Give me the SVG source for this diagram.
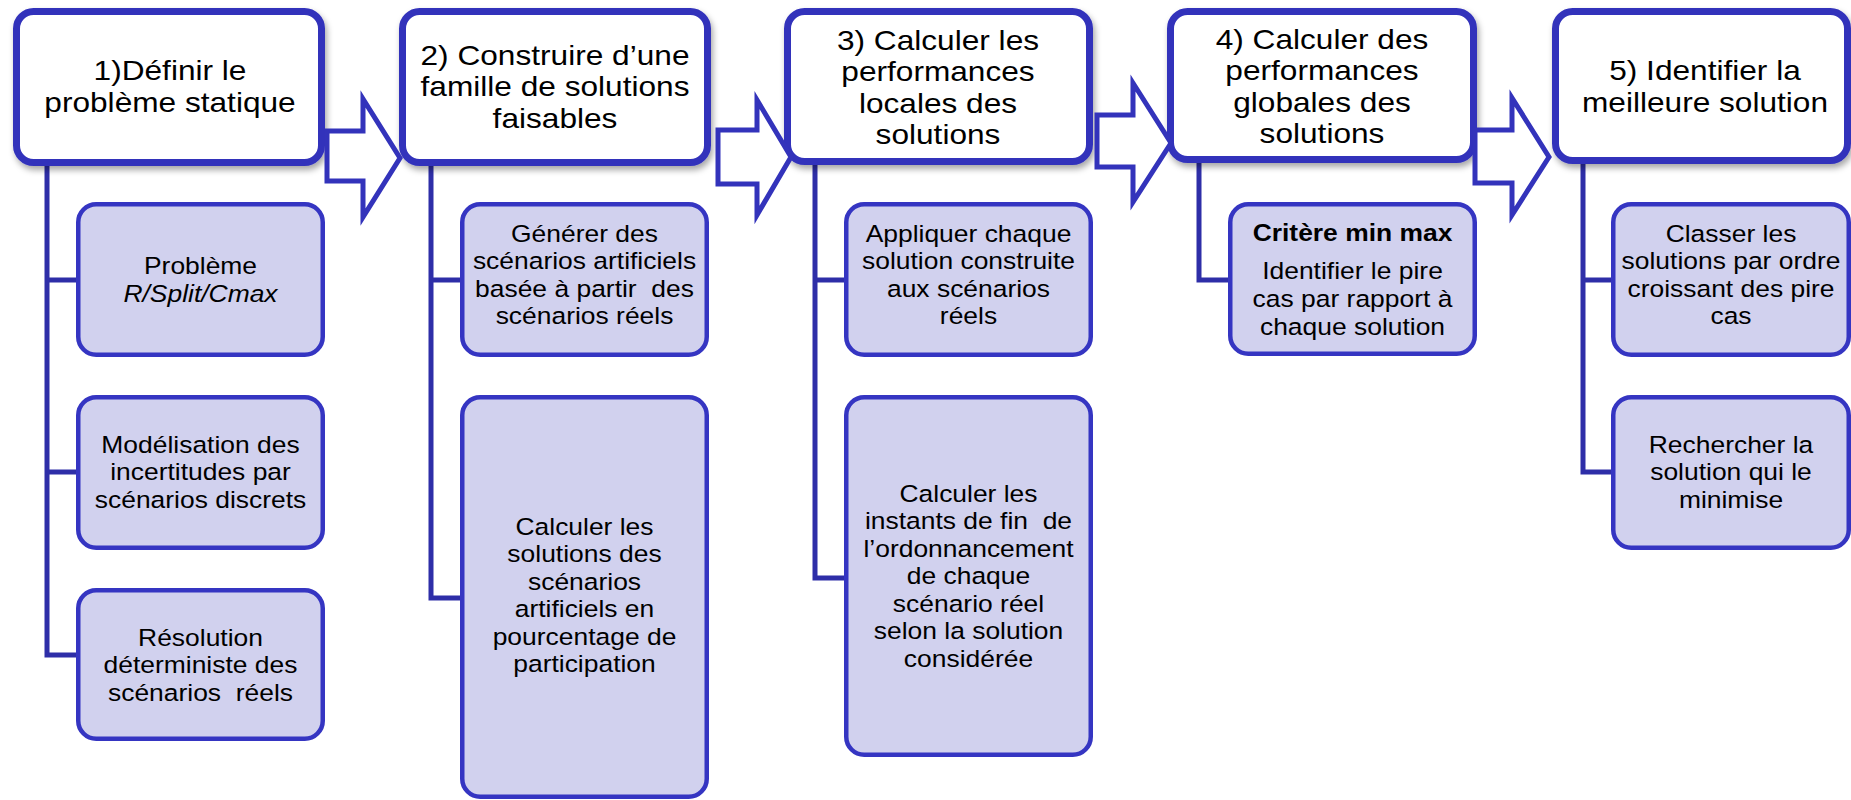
<svg xmlns="http://www.w3.org/2000/svg" width="1851" height="800" viewBox="0 0 1851 800">
<defs>
<style>
.hb{fill:#ffffff;stroke:#3333BB;stroke-width:7;filter:url(#sh)}
.cb{fill:#D1D1EE;stroke:#3535C2;stroke-width:4.5}
.ar{fill:#ffffff;stroke:#3333BB;stroke-width:5;stroke-linejoin:miter}
.ln{fill:none;stroke:#2E2EA8;stroke-width:5}
.h{font-family:"Liberation Sans",Arial,sans-serif;font-size:28px;fill:#000;text-anchor:middle}
.t{font-family:"Liberation Sans",Arial,sans-serif;font-size:23.5px;fill:#000;text-anchor:middle}
</style>
<filter id="sh" x="-10%" y="-10%" width="125%" height="130%">
<feDropShadow dx="2" dy="4" stdDeviation="3" flood-color="#000" flood-opacity="0.35"/>
</filter>
</defs>
<rect width="1851" height="800" fill="#ffffff"/>

<g id="connectors">
<path class="ln" d="M47,166 V655 H78 M47,280 H78 M47,472 H78"/>
<path class="ln" d="M431,166 V598 H462 M431,280 H462"/>
<path class="ln" d="M815,165 V578 H846 M815,280 H846"/>
<path class="ln" d="M1199,162 V280 H1230"/>
<path class="ln" d="M1583,164 V472 H1613 M1583,280 H1613"/>
</g>

<g id="step1">
<rect class="hb" x="16.5" y="11.5" width="305" height="151" rx="17"/>
<text class="h" transform="matrix(1.13 0 0 1 170 0)"><tspan x="0" y="80">1)Définir le</tspan><tspan x="0" y="112">problème statique</tspan></text>
</g>
<g id="step2">
<rect class="hb" x="402.5" y="11.5" width="305" height="151" rx="17"/>
<text class="h" transform="matrix(1.13 0 0 1 555 0)"><tspan x="0" y="65">2) Construire d’une</tspan><tspan x="0" y="96.5">famille de solutions</tspan><tspan x="0" y="128">faisables</tspan></text>
</g>
<g id="step3">
<rect class="hb" x="787.5" y="11.5" width="302" height="150" rx="17"/>
<text class="h" transform="matrix(1.13 0 0 1 938 0)"><tspan x="0" y="50">3) Calculer les</tspan><tspan x="0" y="81.5">performances</tspan><tspan x="0" y="113">locales des</tspan><tspan x="0" y="144.5">solutions</tspan></text>
</g>
<g id="step4">
<rect class="hb" x="1170.5" y="11.5" width="303" height="148" rx="17"/>
<text class="h" transform="matrix(1.13 0 0 1 1322 0)"><tspan x="0" y="49">4) Calculer des</tspan><tspan x="0" y="80.5">performances</tspan><tspan x="0" y="112">globales des</tspan><tspan x="0" y="143.5">solutions</tspan></text>
</g>
<g id="step5">
<rect class="hb" x="1555.5" y="11.5" width="292" height="149" rx="17"/>
<text class="h" transform="matrix(1.13 0 0 1 1705 0)"><tspan x="0" y="80">5) Identifier la</tspan><tspan x="0" y="112">meilleure solution</tspan></text>
</g>

<g id="arrows">
<polygon class="ar" points="327,131 363,131 363,99 400,158 363,217 363,181 327,181"/>
<polygon class="ar" points="718,130 757,130 757,100 791,157 757,215 757,184 718,184"/>
<polygon class="ar" points="1097,115 1133,115 1133,83 1171,143 1133,202 1133,167 1097,167"/>
<polygon class="ar" points="1475,130 1512,130 1512,98 1549,157 1512,215 1512,183 1475,183"/>
</g>

<g id="c1a">
<rect class="cb" x="78.25" y="204.25" width="244.5" height="150.5" rx="18"/>
<text class="t" transform="matrix(1.125 0 0 1 200.5 0)"><tspan x="0" y="274.5">Problème</tspan><tspan x="0" y="302" font-style="italic">R/Split/Cmax</tspan></text>
</g>
<g id="c1b">
<rect class="cb" x="78.25" y="397.25" width="244.5" height="150.5" rx="18"/>
<text class="t" transform="matrix(1.125 0 0 1 200.5 0)"><tspan x="0" y="453">Modélisation des</tspan><tspan x="0" y="480.5">incertitudes par</tspan><tspan x="0" y="508">scénarios discrets</tspan></text>
</g>
<g id="c1c">
<rect class="cb" x="78.25" y="590.25" width="244.5" height="148.5" rx="18"/>
<text class="t" transform="matrix(1.125 0 0 1 200.5 0)" xml:space="preserve"><tspan x="0" y="646">Résolution</tspan><tspan x="0" y="673.5">déterministe des</tspan><tspan x="0" y="701">scénarios  réels</tspan></text>
</g>

<g id="c2a">
<rect class="cb" x="462.25" y="204.25" width="244.5" height="150.5" rx="18"/>
<text class="t" transform="matrix(1.125 0 0 1 584.5 0)" xml:space="preserve"><tspan x="0" y="242">Générer des</tspan><tspan x="0" y="269.5">scénarios artificiels</tspan><tspan x="0" y="297">basée à partir  des</tspan><tspan x="0" y="324.5">scénarios réels</tspan></text>
</g>
<g id="c2b">
<rect class="cb" x="462.25" y="397.25" width="244.5" height="399.5" rx="18"/>
<text class="t" transform="matrix(1.125 0 0 1 584.5 0)"><tspan x="0" y="535">Calculer les</tspan><tspan x="0" y="562.5">solutions des</tspan><tspan x="0" y="590">scénarios</tspan><tspan x="0" y="617.5">artificiels en</tspan><tspan x="0" y="645">pourcentage de</tspan><tspan x="0" y="672.5">participation</tspan></text>
</g>

<g id="c3a">
<rect class="cb" x="846.25" y="204.25" width="244.5" height="150.5" rx="18"/>
<text class="t" transform="matrix(1.125 0 0 1 968.5 0)"><tspan x="0" y="242">Appliquer chaque</tspan><tspan x="0" y="269.5">solution construite</tspan><tspan x="0" y="297">aux scénarios</tspan><tspan x="0" y="324.5">réels</tspan></text>
</g>
<g id="c3b">
<rect class="cb" x="846.25" y="397.25" width="244.5" height="357.5" rx="18"/>
<text class="t" transform="matrix(1.125 0 0 1 968.5 0)" xml:space="preserve"><tspan x="0" y="502">Calculer les</tspan><tspan x="0" y="529.5">instants de fin  de</tspan><tspan x="0" y="557">l’ordonnancement</tspan><tspan x="0" y="584.5">de chaque</tspan><tspan x="0" y="612">scénario réel</tspan><tspan x="0" y="639.5">selon la solution</tspan><tspan x="0" y="667">considérée</tspan></text>
</g>

<g id="c4a">
<rect class="cb" x="1230.25" y="204.25" width="244.5" height="149.5" rx="18"/>
<text class="t" transform="matrix(1.125 0 0 1 1352.5 0)"><tspan x="0" y="241" font-weight="bold">Critère min max</tspan><tspan x="0" y="279">Identifier le pire</tspan><tspan x="0" y="307">cas par rapport à</tspan><tspan x="0" y="335">chaque solution</tspan></text>
</g>

<g id="c5a">
<rect class="cb" x="1613.25" y="204.25" width="235.5" height="150.5" rx="18"/>
<text class="t" transform="matrix(1.125 0 0 1 1731 0)"><tspan x="0" y="242">Classer les</tspan><tspan x="0" y="269.5">solutions par ordre</tspan><tspan x="0" y="297">croissant des pire</tspan><tspan x="0" y="324.5">cas</tspan></text>
</g>
<g id="c5b">
<rect class="cb" x="1613.25" y="397.25" width="235.5" height="150.5" rx="18"/>
<text class="t" transform="matrix(1.125 0 0 1 1731 0)"><tspan x="0" y="453">Rechercher la</tspan><tspan x="0" y="480.5">solution qui le</tspan><tspan x="0" y="508">minimise</tspan></text>
</g>
</svg>
